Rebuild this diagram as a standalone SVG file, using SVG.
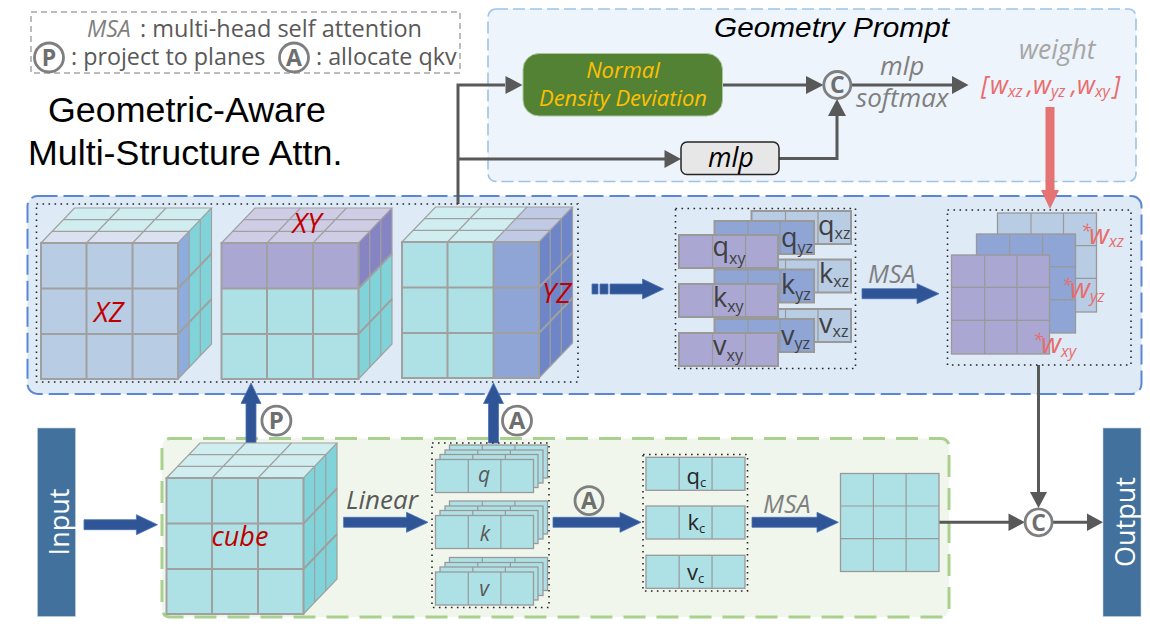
<svg xmlns="http://www.w3.org/2000/svg" xmlns:xlink="http://www.w3.org/1999/xlink" width="1150" height="632" viewBox="0 0 1150 632">
<style>
text{font-family:"Open Sans","Noto Sans","Liberation Sans",sans-serif}
.ar{font-family:"Liberation Sans",Arial,sans-serif}
.it{font-style:italic}
.gr{fill:#595959}
.lg{fill:#7f7f7f}
.red{fill:#c00000;font-style:italic;font-size:28px}
.pink{fill:#e96c6c;font-style:italic}
.tok{fill:#404040;font-size:27px}
.tok tspan{font-size:16px}
.ctok{fill:#262626;font-size:22px}
.ctok tspan{font-size:13px}
.sym{fill:#6e6e6e;font-weight:700;text-anchor:middle}
.ring{fill:none;stroke:#7f7f7f;stroke-width:2.8}
.dot{fill:none;stroke:#262626;stroke-width:1.6;stroke-dasharray:1.6 4.4}
.ln{fill:none;stroke:#a0a0a0;stroke-width:1.2}
.ln2{fill:none;stroke:#a0a0a0;stroke-width:2}
.tile{stroke:#999;stroke-width:1.3}
.tk{stroke:#999;stroke-width:2}
.sep{stroke:#999;stroke-width:1.2}
.dk{fill:none;stroke:#595959;stroke-width:3}
.blk{fill:#2f5597;stroke:#4a74b8;stroke-width:.8}
.te{fill:#aee1e6}.tes{fill:#80d4d9}.tet{fill:#d0eef0}
.bl{fill:#b8cce4}.bls{fill:#8eacdc}.blt{fill:#dbe1f0}
.pu{fill:#aaa7d2}.pus{fill:#8784c3}.put{fill:#cfcde6}
.yz{fill:#8fa5d5}.yzs{fill:#6e86c8}.yzt{fill:#c0cae4}
</style>
<defs>
<g id="cube-lines">
<path class="ln" d="M0 0H137L170.500 -35H33.500ZM137 0V136L170.500 101V-35"/>
<path class="ln" d="M45.500 0L79 -35M91.500 0L125 -35M11.200 -11.700H148.200M22.300 -23.300H159.300"/>
<path class="ln" d="M148.200 -11.700V124.300M159.300 -23.300V112.700"/>
<path class="ln2" d="M137 45.500L170.500 10.500M137 91L170.500 56"/>
<path class="ln2" d="M0 0H137V136H0ZM0 45.500H137M0 91H137M45.500 0V136M91.500 0V136"/>
</g>
<g id="bar"><rect width="98" height="33" class="te tile"/><path class="sep" d="M32.800 0V33M65.400 0V33"/></g>
</defs>

<g id="legend">
<rect x="31" y="12" width="429" height="61" fill="none" stroke="#a6a6a6" stroke-width="1.5" stroke-dasharray="6 4"/>
<text x="87" y="37" font-size="23" class="it lg">MSA</text>
<text x="140" y="37" font-size="23.500" class="gr">: multi-head self attention</text>
<circle cx="49" cy="57.500" r="14.500" class="ring"/><text x="49" y="65.500" font-size="23" class="sym">P</text>
<text x="71" y="64.500" font-size="23.300" class="gr">: project to planes</text>
<circle cx="294" cy="57.500" r="14.500" class="ring"/><text x="294" y="65.500" font-size="23" class="sym">A</text>
<text x="316" y="64.500" font-size="23.300" class="gr">: allocate qkv</text>
</g>
<g id="title">
<text class="ar" x="48" y="122" font-size="35.800" fill="#000">Geometric-Aware</text>
<text class="ar" x="28" y="165" font-size="35.800" fill="#000">Multi-Structure Attn.</text>
</g>

<g id="geometry-panel">
<rect x="488" y="9" width="648" height="172.500" rx="8" fill="#edf4fb" stroke="#9dc3e6" stroke-width="1.6" stroke-dasharray="12 5"/>
<text class="ar it" x="714" y="37" font-size="28" fill="#000" textLength="235" lengthAdjust="spacingAndGlyphs">Geometry Prompt</text>
</g>
<g id="attn-panel"><rect x="27.500" y="196" width="1114" height="198" rx="10" fill="#deeaf6" stroke="#5b86d6" stroke-width="2" stroke-dasharray="20 6"/></g>
<g id="cube-panel"><rect x="162" y="438.500" width="787" height="178.500" rx="8" fill="#f0f6ec" stroke="#a9d18e" stroke-width="3" stroke-dasharray="22 11"/></g>

<g id="connectors">
<path class="dk" d="M458 204V85H505" />
<path class="dk" d="M458 159H665" />
<path class="dk" d="M722 85H807" />
<path class="dk" d="M851 85H953" />
<path class="dk" d="M779 158.500H837V116" />
<path class="dk" d="M938 522.300H1009" />
<path class="dk" d="M1052 522.300H1088" />
<path class="dk" d="M1038.500 365V493" />
<path fill="#595959" d="M505.500 76L522.500 85L505.500 94ZM664.500 150L681 159L664.500 168ZM806 76L823.500 85L806 94ZM952 76L968.500 85L952 94ZM828 116L837 99L846 116ZM1008.500 513.500L1025 522.300L1008.500 531ZM1087 513.500L1103 522.300L1087 531ZM1030 492L1038.500 508L1047 492Z"/>
<path fill="#e57373" d="M1045.500 107H1054.500V190H1059L1050 209L1041 190H1045.500Z"/>
<path class="blk" d="M84 519.700H136.400V514.700L157.500 524.700L136.400 534.700V529.700H84Z"/>
<path class="blk" d="M343.600 517.300H406.500V512.300L428 522.300L406.500 532.300V527.300H343.600Z"/>
<path class="blk" d="M553 517.300H620V512.300L641 522.300L620 532.300V527.300H553Z"/>
<path class="blk" d="M752 517.300H817V512.300L838.400 522.300L817 532.300V527.300H752Z"/>
<path class="blk" d="M246 443V403.500H241L251 383L261 403.500H256V443Z"/>
<path class="blk" d="M488.500 443V403.500H483.500L493.500 383L503.500 403.500H498.500V443Z"/>
<path class="blk" d="M592 284H598V294H592ZM600 284H608V294H600ZM610 284H642.500V279L663.600 289L642.500 299V294H610Z"/>
<path class="blk" d="M862 288.700H917V283.700L939 293.700L917 303.700V298.700H862Z"/>
</g>

<g id="normal-density"><rect x="523" y="53.500" width="199.500" height="62.500" rx="16" fill="#548235" stroke="#a9c79a" stroke-width="1"/>
<text class="it" x="623" y="78" font-size="22" fill="#ffc000" text-anchor="middle">Normal</text>
<text class="it" x="623" y="106" font-size="22" fill="#ffc000" text-anchor="middle">Density Deviation</text></g>
<g id="mlp-box"><rect x="681" y="142" width="98" height="32.500" rx="6" fill="#e7e7e7" stroke="#262626" stroke-width="1.5"/>
<text class="it" x="731" y="167" font-size="27" fill="#000" text-anchor="middle">mlp</text></g>
<g id="concat-top"><circle cx="837.300" cy="85" r="13.500" class="ring"/><text x="837.300" y="93" font-size="23" class="sym">C</text></g>
<g id="gp-labels">
<text class="it lg" x="880" y="75" font-size="26">mlp</text>
<text class="it lg" x="856" y="107" font-size="26">softmax</text>
<text class="it" x="1019" y="59" font-size="26.500" fill="#a6a6a6">weight</text>
</g>
<g id="weights">
<text class="pink" x="981" y="94" font-size="25">[</text>
<text class="pink" x="990" y="94" font-size="25">w<tspan font-size="16" dy="3">xz</tspan></text>
<text class="pink" x="1027" y="94" font-size="25">,</text>
<text class="pink" x="1033" y="94" font-size="25">w<tspan font-size="16" dy="3">yz</tspan></text>
<text class="pink" x="1071" y="94" font-size="25">,</text>
<text class="pink" x="1077" y="94" font-size="25">w<tspan font-size="16" dy="3">xy</tspan></text>
<text class="pink" x="1113" y="94" font-size="25">]</text>
</g>

<g id="cubes-box"><rect x="36.500" y="204" width="541.500" height="178" class="dot"/></g>
<g id="cube-xz" transform="translate(41 243)">
<rect width="137" height="136" class="bl"/><path class="tet" d="M0 0H137L170.500 -35H33.500Z"/><path class="blt" d="M0 0H137L148.200 -11.700H11.200Z"/>
<path class="tes" d="M137 0L170.500 -35V101L137 136Z"/><path class="bls" d="M137 0L148.200 -11.700V124.300L137 136Z"/>
<use href="#cube-lines" xlink:href="#cube-lines"/>
<text class="red" x="53" y="79">XZ</text></g>
<g id="cube-xy" transform="translate(221.500 243)">
<rect width="137" height="136" class="te"/><rect width="137" height="45.500" class="pu"/><path class="put" d="M0 0H137L170.500 -35H33.500Z"/>
<path class="tes" d="M137 0L170.500 -35V101L137 136Z"/><path class="pus" d="M137 0L170.500 -35V10.500L137 45.500Z"/>
<use href="#cube-lines" xlink:href="#cube-lines"/>
<text class="red" x="71" y="-10">XY</text></g>
<g id="cube-yz" transform="translate(402 242)">
<rect width="137" height="136" class="te"/><rect x="91.500" width="45.500" height="136" class="yz"/>
<path class="tet" d="M0 0H137L170.500 -35H33.500Z"/><path class="yzt" d="M91.500 0H137L170.500 -35H125Z"/>
<path class="yzs" d="M137 0L170.500 -35V101L137 136Z"/>
<use href="#cube-lines" xlink:href="#cube-lines"/>
<text class="red" x="140" y="61">YZ</text></g>

<g id="tokens-box"><rect x="675.500" y="208.500" width="180" height="160" class="dot"/></g>
<g id="q-xz"><rect x="751.500" y="211" width="99.500" height="33" class="bl tk"/><path class="sep" d="M785.500 211V244M818 211V244"/><text class="tok" x="818" y="235">q<tspan dy="4">xz</tspan></text></g>
<g id="k-xz"><rect x="751.500" y="259.500" width="99.500" height="33" class="bl tk"/><path class="sep" d="M785.500 259.500V292.500M818 259.500V292.500"/><text class="tok" x="819" y="283">k<tspan dy="4">xz</tspan></text></g>
<g id="v-xz"><rect x="751.500" y="309" width="99.500" height="33" class="bl tk"/><path class="sep" d="M785.500 309V342M818 309V342"/><text class="tok" x="819" y="333">v<tspan dy="4">xz</tspan></text></g>
<g id="q-yz"><rect x="714.500" y="221" width="99.500" height="33" class="yz tk"/><path class="sep" d="M748 221V254M780 221V254"/><text class="tok" x="781" y="247">q<tspan dy="6">yz</tspan></text></g>
<g id="k-yz"><rect x="714.500" y="269.500" width="99.500" height="33" class="yz tk"/><path class="sep" d="M748 269.500V302.500M780 269.500V302.500"/><text class="tok" x="781" y="294">k<tspan dy="6">yz</tspan></text></g>
<g id="v-yz"><rect x="714.500" y="319" width="99.500" height="33" class="yz tk"/><path class="sep" d="M748 319V352M780 319V352"/><text class="tok" x="781" y="345">v<tspan dy="4">yz</tspan></text></g>
<g id="q-xy"><rect x="679" y="235" width="99" height="33" class="pu tk"/><path class="sep" d="M712.500 235V268M745.500 235V268"/><text class="tok" x="712.500" y="256">q<tspan dy="8">xy</tspan></text></g>
<g id="k-xy"><rect x="679" y="284" width="99" height="33" class="pu tk"/><path class="sep" d="M712.500 284V317M745.500 284V317"/><text class="tok" x="713" y="306.500">k<tspan dy="5">xy</tspan></text></g>
<g id="v-xy"><rect x="679" y="333" width="99" height="33" class="pu tk"/><path class="sep" d="M712.500 333V366M745.500 333V366"/><text class="tok" x="713" y="355">v<tspan dy="6">xy</tspan></text></g>
<g id="msa-label-1"><text class="it lg" x="868" y="283" font-size="25">MSA</text></g>

<g id="weighted-box"><rect x="947.500" y="210" width="183.500" height="155" class="dot"/></g>
<g id="layer-xz"><rect x="997.500" y="213" width="99" height="99" class="bl tile"/><path class="sep" d="M1031 213V312M1063.500 213V312M997.500 245.700H1096.500M997.500 278.300H1096.500"/></g>
<g id="layer-yz"><rect x="976.500" y="234" width="99" height="99" class="yz tile"/><path class="sep" d="M1009.700 234V333M1042.500 234V333M976.500 266.700H1075.500M976.500 299.700H1075.500"/></g>
<g id="layer-xy"><rect x="951.500" y="255" width="98" height="99" class="pu tile"/><path class="sep" d="M984.700 255V354M1017 255V354M951.500 287.300H1049.500M951.500 320.300H1049.500"/></g>
<g id="w-labels">
<text class="pink" x="1081" y="237" font-size="18">*</text><text class="pink" x="1089" y="244" font-size="28">w<tspan font-size="16" dy="3">xz</tspan></text>
<text class="pink" x="1062" y="291" font-size="18">*</text><text class="pink" x="1070" y="298" font-size="28">w<tspan font-size="16" dy="4">yz</tspan></text>
<text class="pink" x="1033" y="346" font-size="18">*</text><text class="pink" x="1041" y="353" font-size="28">w<tspan font-size="16" dy="4">xy</tspan></text>
</g>

<g id="input"><rect x="37.500" y="428" width="38" height="188.500" fill="#41719c" stroke="#c4d2de" stroke-width=".6"/><text transform="translate(69 522) rotate(-90)" font-size="27" fill="#fff" text-anchor="middle">Input</text></g>
<g id="output"><rect x="1103" y="428" width="38" height="188.500" fill="#41719c" stroke="#c4d2de" stroke-width=".6"/><text transform="translate(1135 522) rotate(-90)" font-size="27" fill="#fff" text-anchor="middle">Output</text></g>

<g id="cube" transform="translate(166.500 478)">
<rect width="137" height="136" class="te"/><path class="tet" d="M0 0H137L170.500 -35H33.500Z"/><path class="tes" d="M137 0L170.500 -35V101L137 136Z"/>
<use href="#cube-lines" xlink:href="#cube-lines"/>
<text class="red" x="45" y="68" style="font-size:27px">cube</text></g>
<g id="proj-p"><circle cx="276.400" cy="420.700" r="14.500" class="ring"/><text x="276.400" y="429" font-size="24" class="sym">P</text></g>
<g id="alloc-a1"><circle cx="517" cy="420.700" r="14.500" class="ring"/><text x="517" y="429" font-size="24" class="sym">A</text></g>
<g id="linear-label"><text class="it gr" x="346" y="509" font-size="26">Linear</text></g>

<g id="qkv-box"><rect x="432" y="443" width="117" height="164.500" class="dot"/></g>
<g id="q-stack">
<use href="#bar" xlink:href="#bar" x="449.500" y="445"/><use href="#bar" xlink:href="#bar" x="445" y="450"/><use href="#bar" xlink:href="#bar" x="440" y="454.500"/><use href="#bar" xlink:href="#bar" x="435.500" y="459.500"/>
<text class="it gr" x="484" y="482" font-size="21" text-anchor="middle">q</text></g>
<g id="k-stack">
<use href="#bar" xlink:href="#bar" x="449.500" y="501"/><use href="#bar" xlink:href="#bar" x="445" y="506"/><use href="#bar" xlink:href="#bar" x="440" y="510.500"/><use href="#bar" xlink:href="#bar" x="435.500" y="515.500"/>
<text class="it gr" x="485" y="541" font-size="21" text-anchor="middle">k</text></g>
<g id="v-stack">
<use href="#bar" xlink:href="#bar" x="449.500" y="557.500"/><use href="#bar" xlink:href="#bar" x="445" y="562.500"/><use href="#bar" xlink:href="#bar" x="440" y="567"/><use href="#bar" xlink:href="#bar" x="435.500" y="572"/>
<text class="it gr" x="484" y="596" font-size="21" text-anchor="middle">v</text></g>

<g id="alloc-a2"><circle cx="589" cy="500.700" r="14" class="ring"/><text x="589" y="509" font-size="23" class="sym">A</text></g>
<g id="qkvc-box"><rect x="643" y="454.500" width="104.500" height="136.500" class="dot"/></g>
<g id="qc"><use href="#bar" xlink:href="#bar" transform="translate(646 457.300) scale(1.01 1)"/><text class="ctok" x="686.500" y="484">q<tspan dy="3">c</tspan></text></g>
<g id="kc"><use href="#bar" xlink:href="#bar" transform="translate(646 506) scale(1.01 1)"/><text class="ctok" x="687.500" y="530">k<tspan dy="3">c</tspan></text></g>
<g id="vc"><use href="#bar" xlink:href="#bar" transform="translate(646 555.300) scale(1.01 1)"/><text class="ctok" x="687" y="580">v<tspan dy="3">c</tspan></text></g>
<g id="msa-label-2"><text class="it lg" x="763" y="513" font-size="25">MSA</text></g>
<g id="grid"><rect x="840.500" y="473.500" width="98.500" height="98" class="te tile"/><path class="sep" d="M873.400 473.500V571.500M906.100 473.500V571.500M840.500 506H939M840.500 538.700H939"/></g>
<g id="concat-bottom"><circle cx="1038.600" cy="522.300" r="13.500" class="ring"/><text x="1038.600" y="530.500" font-size="23" class="sym">C</text></g>
</svg>
